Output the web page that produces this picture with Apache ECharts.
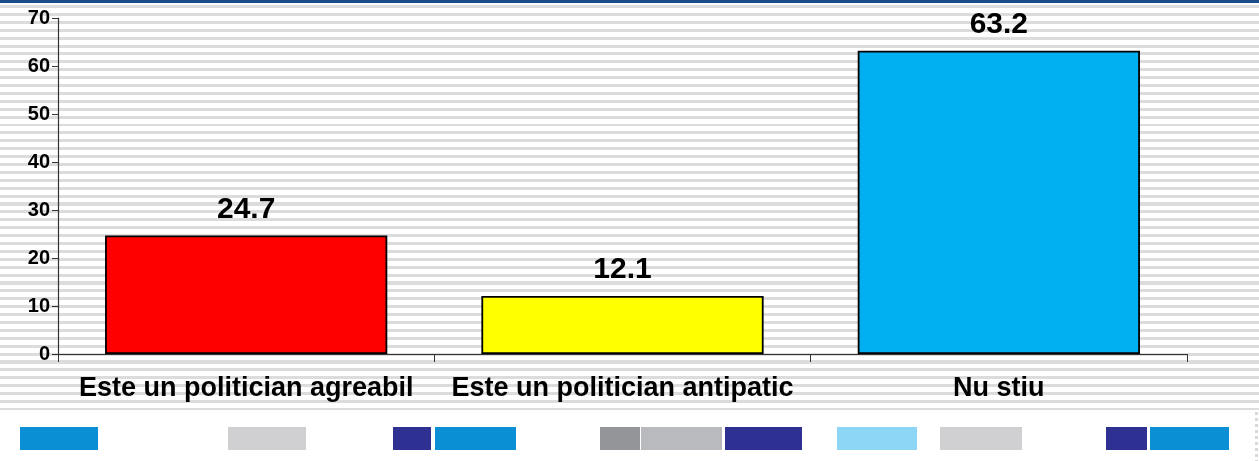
<!DOCTYPE html>
<html>
<head>
<meta charset="utf-8">
<script src="https://cdn.jsdelivr.net/npm/echarts@6/dist/echarts.min.js"></script>
<style>
    html, body { margin: 0; padding: 0; background: #fff; }
    #wrap { position: relative; width: 1259px; height: 461px; overflow: hidden; background: #fff; }
    /* slide background: thin grey stripes + blue top rule */
    #stripes {
        position: absolute; left: 0; top: 4px; width: 1259px; height: 406px;
        background: repeating-linear-gradient(to bottom, #fff 0px, #fff 1px, #dcdcdc 1px, #dcdcdc 4px, #fff 4px, #fff 7.9px);
    }
    #topline { position: absolute; left: 0; top: 0; width: 1259px; height: 3px; background: #1b4a8a; }
    .blk { position: absolute; top: 427px; height: 23px; }
    #dots { position: absolute; left: 1255px; top: 412px; width: 3px; height: 49px;
        background: repeating-linear-gradient(to bottom, #d8d8d8 0px, #d8d8d8 3px, #fff 3px, #fff 6px); }
    #chart { position: absolute; left: 0; top: 0; width: 1259px; height: 461px; }
</style>
</head>
<body>
<div id="wrap">
    <div id="stripes"></div>
    <div id="topline"></div>
    <div class="blk" style="left:20px;width:78px;background:#0a8fd4"></div>
    <div class="blk" style="left:228px;width:78px;background:#d0d0d2"></div>
    <div class="blk" style="left:393px;width:38px;background:#2e3192"></div>
    <div class="blk" style="left:435px;width:81px;background:#0a8fd4"></div>
    <div class="blk" style="left:600px;width:40px;background:#939598"></div>
    <div class="blk" style="left:641px;width:81px;background:#b9babd"></div>
    <div class="blk" style="left:725px;width:77px;background:#2e3192"></div>
    <div class="blk" style="left:837px;width:80px;background:#8ed6f6"></div>
    <div class="blk" style="left:940px;width:82px;background:#d0d0d2"></div>
    <div class="blk" style="left:1106px;width:41px;background:#2e3192"></div>
    <div class="blk" style="left:1150px;width:79px;background:#0a8fd4"></div>
    <div id="dots"></div>
    <div id="chart"></div>
</div>
<script>
    var categories = ['Este un politician agreabil', 'Este un politician antipatic', 'Nu stiu']
    var values = [24.7, 12.1, 63.2]
    var barColors = ['#ff0000', '#ffff00', '#00b0f0']

    var myChart = echarts.init(document.getElementById('chart'))
    var option = {
        backgroundColor: 'transparent',
        animation: false,
        grid: {
            left: 58,
            right: 72,
            top: 18,
            bottom: 107,
        },
        xAxis: {
            type: 'category',
            data: categories,
            axisLine: { lineStyle: { color: '#333', width: 1.2 } },
            axisTick: { show: true, length: 8, lineStyle: { color: '#333' } },
            axisLabel: {
                color: '#000',
                fontFamily: 'Liberation Sans, Arial, sans-serif',
                fontWeight: 'bold',
                fontSize: 27,
                margin: 21,
                interval: 0,
            },
            splitLine: { show: false },
        },
        yAxis: {
            type: 'value',
            min: 0,
            max: 70,
            interval: 10,
            axisLine: { show: true, lineStyle: { color: '#333', width: 1.2 } },
            axisTick: { show: true, length: 6, lineStyle: { color: '#333' } },
            axisLabel: {
                color: '#000',
                fontFamily: 'Liberation Sans, Arial, sans-serif',
                fontWeight: 'bold',
                fontSize: 20,
                margin: 8,
            },
            splitLine: { show: false },
        },
        series: [
            {
                type: 'bar',
                barCategoryGap: '25%',
                data: values.map(function (v, i) {
                    return { value: v, itemStyle: { color: barColors[i] } }
                }),
                itemStyle: { borderColor: '#000', borderWidth: 1.8 },
                label: {
                    show: true,
                    position: 'top',
                    distance: 11,
                    color: '#000',
                    fontFamily: 'Liberation Sans, Arial, sans-serif',
                    fontWeight: 'bold',
                    fontSize: 30,
                },
            },
        ],
    }
    myChart.setOption(option)
</script>
</body>
</html>
